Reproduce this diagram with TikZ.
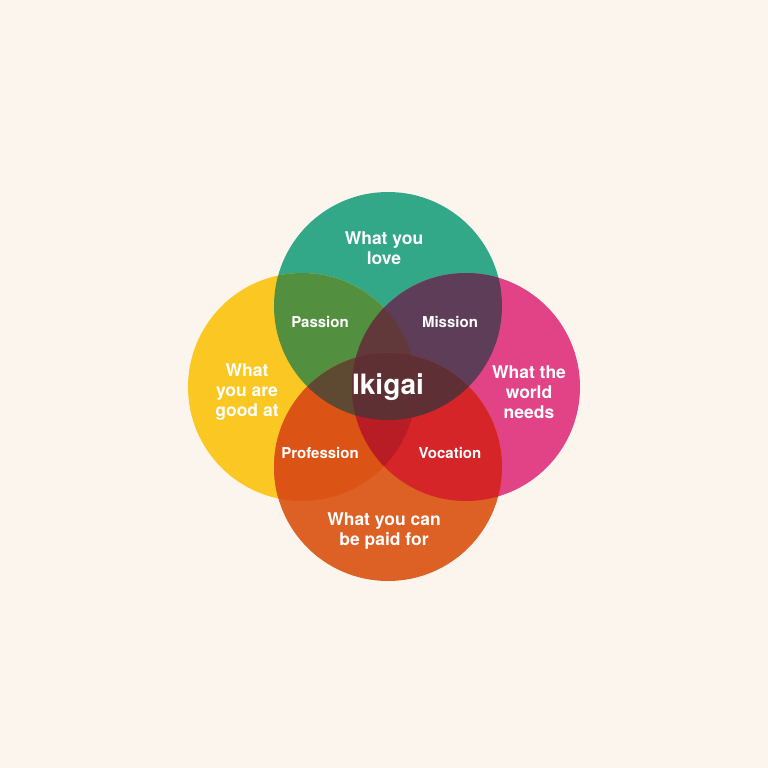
\documentclass[tikz,border=0pt]{standalone}
\usepackage{fontspec}
\setmainfont{TeX Gyre Heros}
\definecolor{bg}{RGB}{252,245,238}
\definecolor{cteal}{RGB}{50,168,137}
\definecolor{cyellow}{RGB}{250,199,35}
\definecolor{cpink}{RGB}{226,67,134}
\definecolor{corange}{RGB}{221,96,36}
\definecolor{cpassion}{RGB}{82,144,63}
\definecolor{cmission}{RGB}{94,61,88}
\definecolor{cprof}{RGB}{220,83,22}
\definecolor{cvoc}{RGB}{213,37,40}
\definecolor{ctlb}{RGB}{94,74,51}
\definecolor{ctrb}{RGB}{94,48,54}
\definecolor{ctlr}{RGB}{98,57,58}
\definecolor{cblr}{RGB}{184,28,36}
\definecolor{call}{RGB}{94,48,51}
\tikzset{
  mainlbl/.style={text=white, align=center, font=\fontsize{17.5}{20}\selectfont\bfseries, inner sep=0pt},
  pairlbl/.style={text=white, font=\fontsize{15}{18}\selectfont\bfseries, inner sep=0pt},
  centerlbl/.style={text=white, font=\fontsize{28}{30}\selectfont\bfseries, inner sep=0pt}
}
\newcommand{\R}{114pt}
\begin{document}
\begin{tikzpicture}[x=1pt,y=-1pt]
\fill[bg] (0,0) rectangle (768,768);
\useasboundingbox (0,0) rectangle (768,768);
\coordinate (T) at (388,306);
\coordinate (L) at (302,387);
\coordinate (Rr) at (466,387);
\coordinate (B) at (388,467);
% base circles
\fill[cteal] (T) circle (\R);
\fill[cyellow] (L) circle (\R);
\fill[cpink] (Rr) circle (\R);
\fill[corange] (B) circle (\R);
% pairwise
\begin{scope}\clip (T) circle (\R); \fill[cpassion] (L) circle (\R); \end{scope}
\begin{scope}\clip (T) circle (\R); \fill[cmission] (Rr) circle (\R); \end{scope}
\begin{scope}\clip (B) circle (\R); \fill[cprof] (L) circle (\R); \end{scope}
\begin{scope}\clip (B) circle (\R); \fill[cvoc] (Rr) circle (\R); \end{scope}
% triples
\begin{scope}\clip (T) circle (\R); \clip (B) circle (\R); \fill[ctlb] (L) circle (\R); \end{scope}
\begin{scope}\clip (T) circle (\R); \clip (B) circle (\R); \fill[ctrb] (Rr) circle (\R); \end{scope}
\begin{scope}\clip (L) circle (\R); \clip (Rr) circle (\R); \fill[ctlr] (T) circle (\R); \end{scope}
\begin{scope}\clip (L) circle (\R); \clip (Rr) circle (\R); \fill[cblr] (B) circle (\R); \end{scope}
% all four
\begin{scope}\clip (L) circle (\R); \clip (Rr) circle (\R); \clip (T) circle (\R); \fill[call] (B) circle (\R); \end{scope}
% labels
\node[mainlbl] (love) at (384,248) {What you\\love};
\node[mainlbl] (good) at (247,392) {What\\you are\\good at};
\node[mainlbl] (world) at (529,392) {What the\\world\\needs};
\node[mainlbl] (paid) at (384,531) {What you can\\be paid for};
\node[pairlbl] (passion) at (320,322) {Passion};
\node[pairlbl] (mission) at (450,322) {Mission};
\node[pairlbl] (profession) at (320,453) {Profession};
\node[pairlbl] (vocation) at (450,453) {Vocation};
\node[centerlbl] (ikigai) at (388,387) {Ikigai};
\end{tikzpicture}
\end{document}
